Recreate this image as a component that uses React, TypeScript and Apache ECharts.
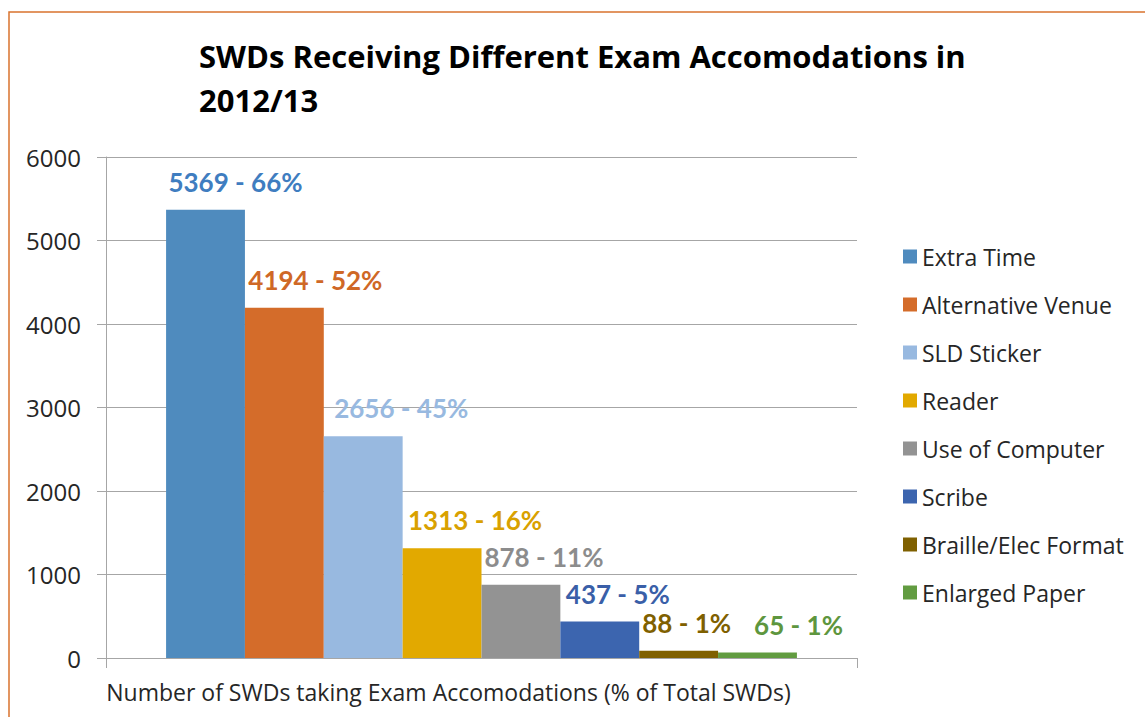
import React, { useEffect, useRef } from "react";
import * as echarts from "echarts";

const seriesNames = [
  "Extra Time",
  "Alternative Venue",
  "SLD Sticker",
  "Reader",
  "Use of Computer",
  "Scribe",
  "Braille/Elec Format",
  "Enlarged Paper",
];
const counts = [5369, 4194, 2656, 1313, 878, 437, 88, 65];
const percents = [66, 52, 45, 16, 11, 5, 1, 1];
const colors = [
  "#4F8BBE",
  "#D46C2A",
  "#98B9E0",
  "#E2A900",
  "#939393",
  "#3C65AF",
  "#7F6000",
  "#629C41",
];
const labelColors = [
  "#3F7DC0",
  "#CF6826",
  "#98B9E0",
  "#D9A100",
  "#8C8C8C",
  "#3A5FA8",
  "#7F6000",
  "#5E963E",
];
const labelShift = [30, 31, 38, 33, 23, 18, 8, 41];
const categoryName = "Number of SWDs taking Exam Accomodations (% of Total SWDs)";
const titleText = "SWDs Receiving Different Exam Accomodations in\n2012/13";

const BOLD_FONT = "Lato";
const FONT = "Open Sans";

export default function App() {
  const ref = useRef<HTMLDivElement>(null);
  useEffect(() => {
    const chart = echarts.init(ref.current!, undefined, { renderer: "svg" });
    const series = seriesNames.map((name, i) => ({
      name,
      type: "bar",
      data: [counts[i]],
      barGap: "0%",
      barCategoryGap: "16%",
      itemStyle: { color: colors[i] },
      label: {
        show: true,
        position: "top",
        distance: 15,
        offset: [labelShift[i], 0],
        formatter: `${counts[i]} - ${percents[i]}%`,
        color: labelColors[i],
        fontFamily: BOLD_FONT,
        fontWeight: "bold",
        fontSize: 26,
      },
    }));
    chart.setOption({
      animation: false,
      backgroundColor: "#ffffff",
      title: {
        text: titleText,
        left: 194,
        top: 29,
        textStyle: {
          fontFamily: FONT,
          fontWeight: "bold",
          fontSize: 31,
          lineHeight: 44,
          color: "#000000",
        },
      },
      graphic: [
        {
          type: "rect",
          shape: { x: 9, y: 12, width: 2000, height: 2000 },
          style: { fill: "none", stroke: "#D9732E", lineWidth: 1.5 },
          silent: true,
        },
      ],
      legend: {
        orient: "vertical",
        left: 898,
        top: 240,
        itemWidth: 14,
        itemHeight: 14,
        itemGap: 25,
        icon: "rect",
        textStyle: {
          fontFamily: FONT,
          fontSize: 23,
          color: "#262626",
        },
        data: seriesNames,
      },
      grid: { left: 106, right: 288, top: 157, bottom: 59, containLabel: false },
      xAxis: {
        type: "category",
        data: [categoryName],
        axisLine: { lineStyle: { color: "#A6A6A6", width: 1 } },
        axisTick: { show: true, length: 10, lineStyle: { color: "#A6A6A6" } },
        axisLabel: {
          fontFamily: FONT,
          fontSize: 23,
          color: "#262626",
          margin: 22,
          padding: [0, 66, 0, 0],
        },
      },
      yAxis: {
        type: "value",
        min: 0,
        max: 6000,
        interval: 1000,
        axisLine: { show: true, lineStyle: { color: "#A6A6A6", width: 1 } },
        axisTick: { show: true, length: 9, lineStyle: { color: "#A6A6A6" } },
        splitLine: { lineStyle: { color: "#A6A6A6", width: 1 } },
        axisLabel: {
          fontFamily: FONT,
          fontSize: 24,
          color: "#262626",
          margin: 25,
          formatter: (v: number) => String(v),
        },
      },
      series,
    });
    return () => chart.dispose();
  }, []);
  return (
    <div
      ref={ref}
      style={{ position: "fixed", left: 0, top: 0, width: 1145, height: 717 }}
    />
  );
}
